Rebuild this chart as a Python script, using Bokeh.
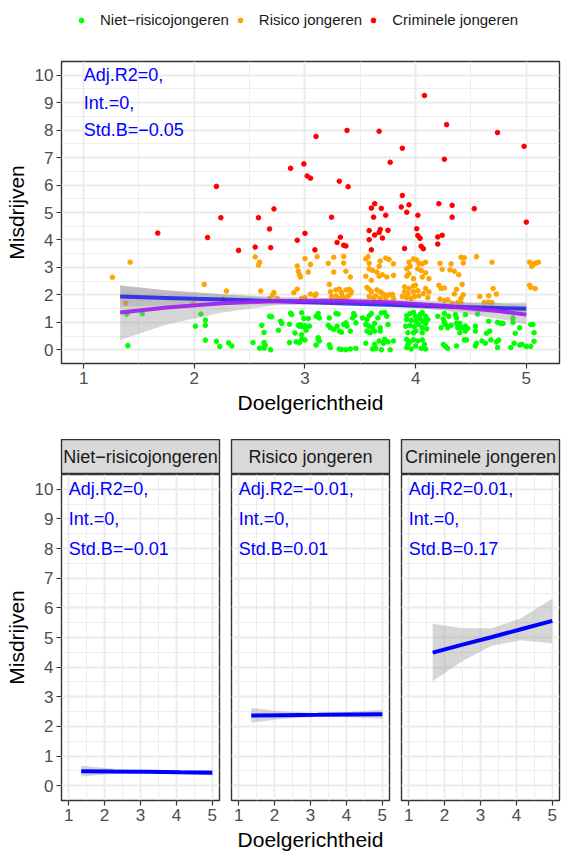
from bokeh.plotting import figure
from bokeh.models import Range1d, FixedTicker, Legend, LegendItem
from bokeh.layouts import column, row
from bokeh.embed import file_html
from bokeh.resources import INLINE
from bokeh.core.properties import value

FONT = "Liberation Sans"

CATEGORIES = ["Niet\u2212risicojongeren", "Risico jongeren", "Criminele jongeren"]
COLORS = ["#00FF00", "#FFA500", "#FF0000"]

X_TICKS = [1, 2, 3, 4, 5]
X_MINOR = [1.5, 2.5, 3.5, 4.5]
Y_TICKS = [0, 1, 2, 3, 4, 5, 6, 7, 8, 9, 10]
Y_MINOR = [0.5, 1.5, 2.5, 3.5, 4.5, 5.5, 6.5, 7.5, 8.5, 9.5]

X_LABEL = "Doelgerichtheid"
Y_LABEL = "Misdrijven"

# jittered observations (Doelgerichtheid, Misdrijven)
niet_pts = [
    (1.39, 1.30), (1.53, 1.31), (1.40, 0.15), (2.06, 1.30), (2.10, 1.08), (2.10, 0.89), (2.01, 0.86),
    (2.10, 0.35), (2.20, 0.31), (2.23, 0.12), (2.31, 0.25), (2.34, 0.14), (2.53, 0.26), (2.59, 0.06),
    (2.63, 0.26), (2.63, 0.06), (2.69, 0.00), (2.64, 0.17), (2.61, 0.89), (2.63, 0.63), (2.68, 1.22),
    (2.70, 1.20), (2.76, 0.71), (2.78, 1.04), (2.79, 0.96), (2.86, 0.93), (2.87, 1.33), (2.86, 0.26),
    (2.92, 0.29), (2.95, 0.26), (2.97, 0.38), (3.00, 0.36), (2.91, 0.61), (2.97, 0.55), (3.01, 0.71),
    (2.97, 1.35), (2.99, 1.14), (3.03, 1.14), (2.94, 0.89), (2.96, 0.91), (2.98, 0.84), (3.00, 0.87),
    (3.10, 1.22), (3.10, 0.17), (2.88, 1.28), (2.95, 0.86), (3.04, 0.86), (3.12, 1.32), (3.21, 0.89),
    (3.22, 1.16), (3.23, 0.80), (3.28, 1.32), (3.29, 0.86), (3.31, 0.68), (3.37, 0.98), (3.38, 0.86),
    (3.44, 1.32), (3.46, 0.98), (3.12, 0.38), (3.22, 0.18), (3.31, 0.03), (3.41, 0.03), (3.46, 0.05),
    (3.37, 0.00), (3.13, 1.16), (3.26, 0.74), (3.30, 1.30), (3.33, 0.64), (3.35, 0.92), (3.41, 0.68),
    (3.43, 1.16), (3.45, 1.24), (3.23, 0.08), (3.33, 0.01), (3.12, 0.44), (3.13, 0.32),
    (3.52, 1.16), (3.56, 1.10), (3.58, 1.24), (3.60, 1.32), (3.55, 0.92), (3.58, 0.86), (3.61, 0.80),
    (3.63, 0.96), (3.66, 1.16), (3.68, 0.80), (3.69, 1.34), (3.72, 1.36), (3.74, 1.22), (3.75, 0.92),
    (3.63, 0.68), (3.59, 0.62), (3.56, 0.68), (3.68, 0.68), (3.55, 0.24), (3.63, 0.20), (3.64, 0.05),
    (3.67, 0.32), (3.71, 0.24), (3.72, 0.38), (3.75, 0.29), (3.80, 0.32), (3.61, 0.03), (3.69, 0.00),
    (3.77, 0.00), (3.92, 1.24), (3.95, 1.32), (3.98, 1.36), (4.00, 1.22), (4.04, 1.28), (4.06, 1.36),
    (4.09, 1.22), (4.11, 1.10), (3.92, 1.10), (3.96, 1.08), (4.00, 1.04), (4.04, 1.12), (4.07, 1.04),
    (4.09, 0.96), (3.91, 0.86), (3.95, 0.89), (3.99, 0.84), (4.03, 0.92), (4.06, 0.80), (4.10, 0.76),
    (3.93, 0.62), (3.98, 0.62), (4.00, 0.68), (4.06, 0.62), (3.92, 0.38), (3.95, 0.29), (3.98, 0.36),
    (4.02, 0.32), (4.06, 0.36), (4.08, 0.20), (3.92, 0.08), (3.96, 0.03), (4.00, 0.14), (4.05, 0.05),
    (4.09, 0.03), (3.93, 0.20), (4.20, 1.22), (4.26, 1.32), (4.25, 1.12), (4.30, 1.22), (4.36, 1.28),
    (4.37, 1.16), (4.45, 1.28), (4.56, 1.30), (4.26, 1.00), (4.27, 0.92), (4.32, 0.89), (4.23, 0.80),
    (4.29, 0.80), (4.37, 0.96), (4.40, 0.96), (4.38, 0.80), (4.42, 0.80), (4.45, 0.86), (4.54, 0.86),
    (4.66, 1.04), (4.67, 0.68), (4.74, 1.00), (4.77, 0.96), (4.79, 0.96), (4.88, 1.16), (4.88, 1.00),
    (4.94, 0.80), (5.04, 0.92), (5.06, 0.92), (4.40, 0.62), (4.45, 0.68), (4.47, 0.78), (4.54, 0.68),
    (4.64, 0.60), (4.90, 0.60), (5.07, 0.62), (4.25, 0.20), (4.27, 0.12), (4.29, 0.05), (4.37, 0.14),
    (4.44, 0.36), (4.46, 0.36), (4.54, 0.14), (4.55, 0.24), (4.60, 0.32), (4.63, 0.24), (4.68, 0.36),
    (4.73, 0.29), (4.75, 0.35), (4.74, 0.08), (4.86, 0.08), (4.89, 0.24), (4.94, 0.17), (4.96, 0.20),
    (5.00, 0.12), (5.04, 0.12), (5.07, 0.31),
]

risico_pts = [
    (1.26, 2.64), (1.42, 3.19), (1.38, 1.70), (1.99, 1.68), (2.09, 2.38), (2.29, 2.14), (2.26, 1.85),
    (2.55, 3.38), (2.58, 3.08), (2.59, 3.19), (2.60, 2.14), (2.68, 1.87), (2.71, 2.00), (2.72, 2.08),
    (2.75, 1.87), (2.90, 2.08), (2.93, 2.21), (2.93, 3.05), (2.94, 2.86), (2.95, 2.73), (2.96, 2.65),
    (3.00, 3.32), (3.03, 2.83), (3.05, 3.11), (3.11, 3.39), (2.97, 1.87), (3.00, 1.90), (3.05, 2.03),
    (3.09, 1.97), (3.10, 2.03), (3.21, 3.15), (3.26, 3.37), (3.35, 3.40), (3.35, 3.16), (3.26, 2.83),
    (3.37, 2.86), (3.41, 2.65), (3.22, 2.38), (3.23, 2.11), (3.28, 2.18), (3.31, 2.21), (3.33, 2.08),
    (3.37, 2.18), (3.40, 2.20), (3.42, 2.11), (3.24, 1.94), (3.28, 1.96), (3.30, 1.87), (3.34, 1.94),
    (3.36, 1.87), (3.39, 1.96), (3.41, 2.03), (3.55, 3.31), (3.57, 3.39), (3.58, 3.15), (3.58, 2.95),
    (3.61, 2.89), (3.65, 2.83), (3.68, 3.23), (3.67, 3.04), (3.73, 3.34), (3.76, 3.29), (3.80, 3.13),
    (3.55, 2.68), (3.60, 2.53), (3.67, 2.68), (3.70, 2.73), (3.74, 2.65), (3.80, 2.71), (3.56, 2.27),
    (3.58, 2.20), (3.60, 2.11), (3.65, 2.18), (3.68, 2.11), (3.70, 2.05), (3.72, 2.00), (3.58, 1.94),
    (3.62, 1.90), (3.64, 1.96), (3.68, 1.87), (3.73, 1.90), (3.76, 2.00), (3.79, 2.02), (3.80, 1.87),
    (3.94, 3.19), (3.95, 3.04), (3.98, 3.31), (4.01, 3.27), (4.03, 3.15), (4.06, 3.13), (4.09, 3.19),
    (3.92, 2.95), (3.94, 2.77), (4.02, 2.95), (4.05, 2.89), (4.09, 2.80), (3.92, 2.68), (3.98, 2.59),
    (4.06, 2.65), (4.12, 2.59), (3.90, 2.29), (3.94, 2.23), (3.98, 2.32), (4.00, 2.35), (3.90, 2.11),
    (3.93, 2.05), (3.98, 2.11), (4.02, 2.15), (3.88, 1.94), (3.92, 1.90), (3.96, 1.87), (3.99, 1.94),
    (4.03, 1.96), (4.07, 2.05), (4.12, 2.11), (4.09, 2.23), (4.11, 1.90), (4.22, 3.15), (4.24, 2.93),
    (4.32, 3.13), (4.31, 2.91), (4.35, 2.86), (4.39, 2.73), (4.41, 3.37), (4.44, 3.35), (4.43, 3.16),
    (4.55, 3.39), (4.69, 3.19), (4.21, 2.35), (4.23, 2.23), (4.26, 2.25), (4.37, 2.20), (4.35, 2.03),
    (4.42, 2.38), (4.43, 2.00), (4.41, 1.87), (4.22, 1.85), (4.26, 1.79), (4.29, 1.82), (4.33, 1.70),
    (4.38, 1.72), (4.41, 1.73), (4.58, 1.94), (4.66, 1.97), (4.70, 2.23), (4.73, 2.03), (4.62, 1.73),
    (4.66, 1.73), (4.69, 1.72), (5.03, 3.19), (5.05, 3.04), (5.07, 3.13), (5.09, 3.16), (5.11, 3.19),
    (5.03, 2.35), (5.04, 2.27), (5.08, 2.23),
]

crimineel_pts = [
    (1.67, 4.25), (2.12, 4.09), (2.20, 5.95), (2.24, 4.81), (2.40, 3.62), (2.55, 3.74), (2.58, 4.81),
    (2.68, 4.40), (2.69, 3.72), (2.72, 5.13), (2.87, 6.61), (2.93, 3.99), (2.99, 6.77), (3.00, 4.24),
    (3.02, 6.33), (3.05, 6.25), (3.09, 3.64), (3.10, 7.77), (3.24, 4.83), (3.29, 3.91), (3.31, 6.14),
    (3.32, 4.10), (3.35, 3.81), (3.37, 3.78), (3.38, 7.99), (3.39, 5.94), (3.58, 4.34), (3.58, 4.01),
    (3.60, 5.16), (3.60, 3.64), (3.62, 4.83), (3.63, 5.32), (3.63, 4.18), (3.67, 7.96), (3.67, 4.27),
    (3.68, 4.38), (3.69, 5.15), (3.70, 4.07), (3.73, 4.90), (3.75, 4.35), (3.77, 6.83), (3.87, 5.20),
    (3.88, 7.34), (3.88, 5.62), (3.90, 3.69), (3.92, 5.01), (3.94, 5.28), (4.01, 4.41), (4.02, 4.90),
    (4.02, 4.16), (4.04, 4.06), (4.05, 3.77), (4.07, 3.68), (4.08, 9.26), (4.20, 4.11), (4.20, 3.85),
    (4.21, 5.32), (4.24, 4.17), (4.26, 6.94), (4.28, 8.20), (4.33, 5.26), (4.33, 4.83), (4.53, 5.14),
    (4.74, 7.91), (4.98, 7.41), (5.00, 4.65),
]

# fitted lines of the pooled panel
top_fit_x = [1.33, 1.75, 2.25, 2.75, 3.25, 3.75, 4.25, 4.75, 5.0]
lm_y = [1.94, 1.89, 1.83, 1.77, 1.70, 1.64, 1.58, 1.52, 1.49]
lm_lo = [1.56, 1.61, 1.64, 1.65, 1.62, 1.56, 1.46, 1.33, 1.26]
lm_hi = [2.32, 2.17, 2.02, 1.89, 1.78, 1.72, 1.70, 1.71, 1.72]
curve_y = [1.36, 1.54, 1.69, 1.78, 1.79, 1.73, 1.60, 1.41, 1.28]
curve_lo = [0.36, 0.92, 1.36, 1.63, 1.69, 1.61, 1.43, 1.13, 0.92]
curve_hi = [2.36, 2.16, 2.02, 1.93, 1.89, 1.85, 1.77, 1.69, 1.64]

# fitted lines per group
facet_fit_x = [
    [1.35, 2.25, 3.2, 4.1, 5.0],
    [1.35, 2.25, 3.2, 4.1, 5.0],
    [1.67, 2.5, 3.3, 4.1, 5.0],
]
facet_fit_y = [
    [0.49, 0.48, 0.47, 0.45, 0.44],
    [2.37, 2.38, 2.39, 2.40, 2.41],
    [4.49, 4.76, 5.01, 5.27, 5.56],
]
facet_fit_lo = [
    [0.31, 0.39, 0.42, 0.39, 0.35],
    [2.12, 2.26, 2.33, 2.31, 2.26],
    [3.52, 4.21, 4.71, 4.91, 4.81],
]
facet_fit_hi = [
    [0.67, 0.57, 0.52, 0.51, 0.53],
    [2.62, 2.50, 2.45, 2.49, 2.56],
    [5.46, 5.31, 5.31, 5.63, 6.31],
]

top_annot = ["Adj.R2=0,", "Int.=0,", "Std.B=\u22120.05"]
facet_annot = [
    ["Adj.R2=0,", "Int.=0,", "Std.B=\u22120.01"],
    ["Adj.R2=\u22120.01,", "Int.=0,", "Std.B=0.01"],
    ["Adj.R2=0.01,", "Int.=0,", "Std.B=0.17"],
]
ANNOT_X = [1.0, 1.0, 1.0]
ANNOT_Y = [10, 9, 8]

GRID = "#EBEBEB"
BORDER = "#333333"


def style_axes(p, show_y=True, x_label="", y_label=""):
    p.outline_line_color = BORDER
    p.outline_line_width = 1.4
    xt = FixedTicker(ticks=X_TICKS, minor_ticks=X_MINOR)
    yt = FixedTicker(ticks=Y_TICKS, minor_ticks=Y_MINOR)
    p.xaxis.ticker = xt
    p.yaxis.ticker = yt
    p.xgrid.ticker = xt
    p.ygrid.ticker = yt
    for g in (p.xgrid, p.ygrid):
        g.grid_line_color = GRID
        g.grid_line_width = 1.8
        g.minor_grid_line_color = GRID
        g.minor_grid_line_width = 0.9
    for ax in (p.xaxis, p.yaxis):
        ax.axis_line_color = None
        ax.major_tick_line_color = BORDER
        ax.major_tick_line_width = 1.2
        ax.major_tick_in = 0
        ax.major_tick_out = 5
        ax.minor_tick_line_color = None
        ax.major_label_standoff = 3
        ax.major_label_text_font = FONT
        ax.major_label_text_font_size = "17px"
        ax.major_label_text_color = "#4D4D4D"
        ax.axis_label_text_font = FONT
        ax.axis_label_text_font_size = "21px"
        ax.axis_label_text_font_style = "normal"
        ax.axis_label_text_color = "black"
        ax.axis_label_standoff = 4
    p.xaxis.axis_label = x_label
    if show_y:
        p.yaxis.axis_label = y_label
    else:
        p.yaxis.visible = False


all_pts = [niet_pts, risico_pts, crimineel_pts]

# ---------- legend strip (key glyphs use the group data, kept outside this strip's range) ----------
leg = figure(frame_width=561, frame_height=45, x_range=Range1d(-2, -1), y_range=Range1d(-2, -1),
             x_axis_type=None, y_axis_type=None, toolbar_location=None, output_backend="svg",
             min_border_left=0, min_border_right=0, min_border_top=0, min_border_bottom=0)
leg.outline_line_color = None
leg_renderers = []
for pts, col in zip(all_pts, COLORS):
    leg_renderers.append(leg.scatter([a for a, b in pts], [b for a, b in pts], size=5, color=col,
                                     marker="circle"))
legend = Legend(items=[LegendItem(label=c, renderers=[r]) for c, r in zip(CATEGORIES, leg_renderers)],
                orientation="horizontal", location=(75, 17), padding=0, margin=0, spacing=5,
                glyph_width=12, glyph_height=16, label_standoff=13, label_height=16,
                label_text_font=FONT, label_text_font_size="15px", label_text_color="#1A1A1A",
                border_line_color=None, background_fill_alpha=0)
leg.add_layout(legend)

# ---------- top panel ----------
top = figure(frame_width=498, frame_height=302, x_range=Range1d(0.8, 5.3), y_range=Range1d(-0.5, 10.5),
             toolbar_location=None, output_backend="svg",
             min_border_left=61, min_border_right=2, min_border_top=16, min_border_bottom=76)
style_axes(top, True, X_LABEL, Y_LABEL)

for pts, col in zip(all_pts, COLORS):
    top.scatter([a for a, b in pts], [b for a, b in pts], size=4.6, color=col, marker="circle")

top.varea(top_fit_x, lm_lo, lm_hi, fill_color="#999999", fill_alpha=0.4)
top.varea(top_fit_x, curve_lo, curve_hi, fill_color="#999999", fill_alpha=0.4)
top.line(top_fit_x, lm_y, line_color="#0000FF", line_alpha=0.72, line_width=4)
top.line(top_fit_x, curve_y, line_color="#A020F0", line_alpha=0.92, line_width=4)
top.text(ANNOT_X, ANNOT_Y, text=top_annot, text_font=value(FONT), text_font_size="18px",
         text_color="#0000FF", text_align="left", text_baseline="middle")

# ---------- facet panels ----------
FW = 158
borders = [(61, 6), (6, 6), (6, 2)]
cols = []
for i in range(3):
    ml, mr = borders[i]
    s = figure(frame_width=FW, frame_height=35, x_range=Range1d(0, 1), y_range=Range1d(0, 1),
               x_axis_type=None, y_axis_type=None, toolbar_location=None, output_backend="svg",
               min_border_left=ml, min_border_right=mr, min_border_top=0, min_border_bottom=0)
    s.background_fill_color = "#D9D9D9"
    s.outline_line_color = BORDER
    s.outline_line_width = 1.4
    s.text([0.5], [0.5], text=[CATEGORIES[i]], text_font=value(FONT), text_font_size="18px",
           text_color="#1A1A1A", text_align="center", text_baseline="middle")

    f = figure(frame_width=FW, frame_height=326, x_range=Range1d(0.8, 5.2), y_range=Range1d(-0.5, 10.5),
               toolbar_location=None, output_backend="svg",
               min_border_left=ml, min_border_right=mr, min_border_top=0, min_border_bottom=30)
    style_axes(f, i == 0, X_LABEL if i == 1 else "", Y_LABEL)
    f.varea(facet_fit_x[i], facet_fit_lo[i], facet_fit_hi[i], fill_color="#999999", fill_alpha=0.4)
    f.line(facet_fit_x[i], facet_fit_y[i], line_color="#0000FF", line_width=4)
    f.text(ANNOT_X, ANNOT_Y, text=facet_annot[i], text_font=value(FONT), text_font_size="18px",
           text_color="#0000FF", text_align="left", text_baseline="middle")
    cols.append(column(s, f, spacing=0))

layout = column(leg, top, row(*cols, spacing=0), spacing=0)

open("out.html", "w").write(file_html(layout, INLINE))
